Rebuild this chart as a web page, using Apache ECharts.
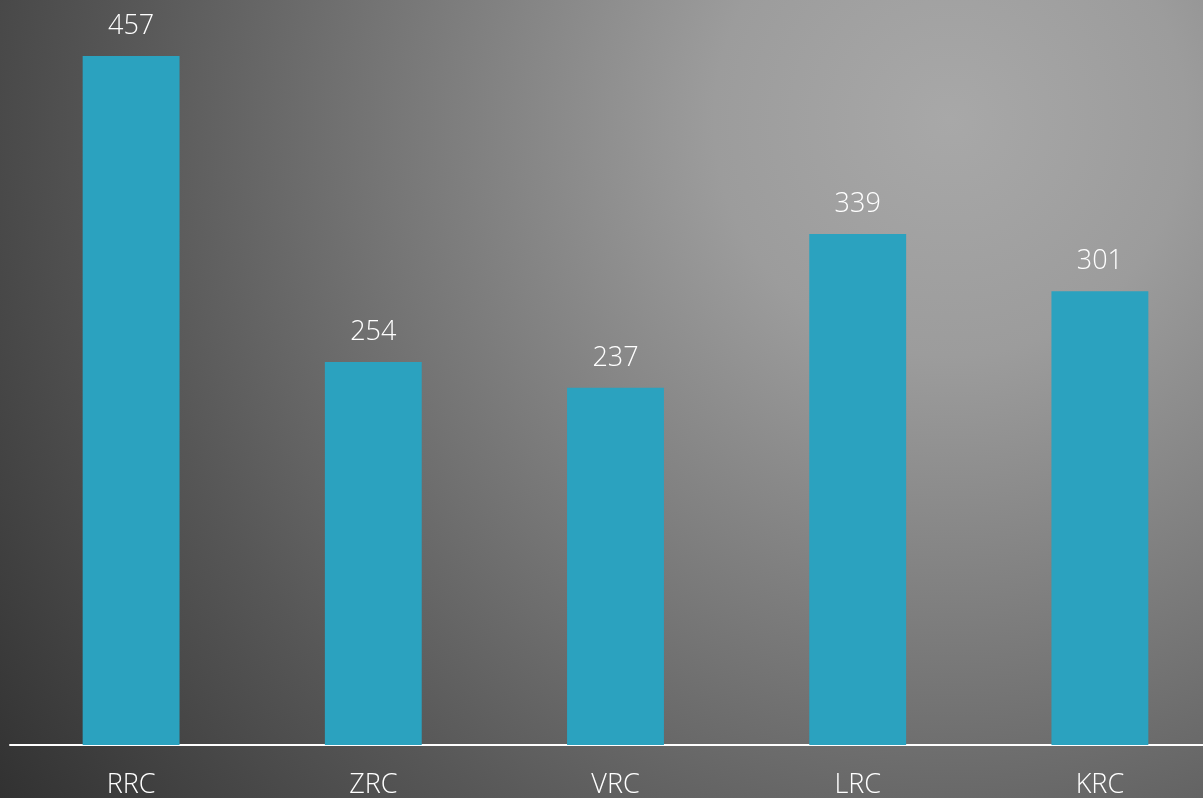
<!DOCTYPE html>
<html>
<head>
<meta charset="utf-8">
<script src="https://cdn.jsdelivr.net/npm/echarts@6/dist/echarts.min.js"></script>
<style>
html,body{margin:0;padding:0;background:#555;}
#chart{width:1203px;height:798px;}
</style>
</head>
<body>
<div id="chart"></div>
<script>
const categories = ['RRC', 'ZRC', 'VRC', 'LRC', 'KRC'];
const values = [457, 254, 237, 339, 301];

const chart = echarts.init(document.getElementById('chart'), null, {renderer: 'canvas'});
chart.setOption({
  animation: false,
  backgroundColor: {
    type: 'radial', x: 950, y: 120, r: 1180, global: true,
    colorStops: [
      {offset: 0, color: '#a8a8a8'},
      {offset: 0.2, color: '#9c9c9c'},
      {offset: 0.5, color: '#737373'},
      {offset: 0.7, color: '#575757'},
      {offset: 1, color: '#303030'}
    ]
  },
  grid: {left: 10, width: 1211, top: 56, height: 689, containLabel: false, outerBoundsMode: 'none'},
  xAxis: {
    type: 'category',
    data: categories,
    axisLine: {show: true, lineStyle: {color: '#ffffff', width: 2}},
    axisTick: {show: false},
    axisLabel: {color: '#ffffff', fontFamily: 'Open Sans', fontWeight: 300, fontSize: 27, margin: 27}
  },
  yAxis: {
    type: 'value', min: 0, max: 'dataMax', show: false,
    splitLine: {show: false}
  },
  series: [{
    type: 'bar',
    data: values,
    barWidth: '40%',
    itemStyle: {color: '#2ba2bf'},
    label: {
      show: true, position: 'top', distance: 16,
      color: '#ffffff', fontFamily: 'Open Sans', fontWeight: 300, fontSize: 27
    }
  }]
});
</script>
</body>
</html>
